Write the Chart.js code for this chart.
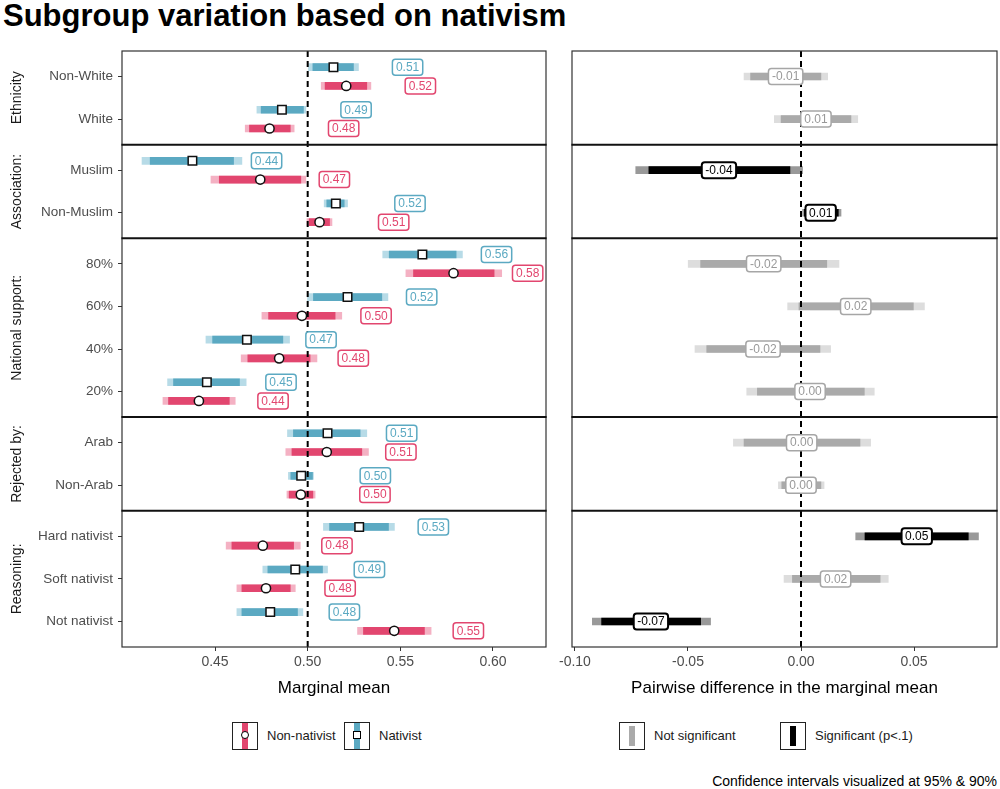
<!DOCTYPE html>
<html lang="en">
<head>
    <meta charset="UTF-8">
    <title>Subgroup variation based on nativism</title>
    <style>
        body {
            margin: 0;
            background-color: #fff;
            font-family: "Liberation Sans", Arial, sans-serif;
        }

        #page {
            position: relative;
            width: 1000px;
            height: 789px;
            overflow: hidden;
        }

        h1 {
            position: absolute;
            left: 3px;
            top: 0;
            margin: 0;
            font-size: 31px;
            line-height: 31px;
            font-weight: bold;
            color: #000;
            white-space: nowrap;
        }

        canvas {
            position: absolute;
            top: 0;
        }

        .legend-item {
            position: absolute;
            top: 721px;
            height: 29px;
            display: flex;
            align-items: center;
            font-size: 13px;
            color: #1a1a1a;
            white-space: nowrap;
        }

        .key {
            position: relative;
            width: 24px;
            height: 26px;
            border: 1.5px solid #222;
            margin-right: 9px;
            flex: none;
        }

        .key .bar {
            position: absolute;
            left: 9px;
            top: 0;
            width: 6px;
            height: 100%;
        }

        .key .dot {
            position: absolute;
            left: 7.8px;
            top: 8.8px;
            width: 6px;
            height: 6px;
            border: 1.2px solid #000;
            background: #fff;
        }

        .caption {
            position: absolute;
            right: 3px;
            top: 773px;
            font-size: 14px;
            line-height: 16px;
            color: #000;
            white-space: nowrap;
        }
    </style>
</head>
<body>
<div id="page">
    <h1>Subgroup variation based on nativism</h1>

    <canvas id="left-chart" width="556" height="700" style="left:0"></canvas>
    <canvas id="right-chart" width="444" height="700" style="left:556px"></canvas>

    <!-- Legend -->
    <div class="legend-item" style="left:232px">
        <span class="key"><span class="bar" style="background:#e2466f"></span><span class="dot" style="border-radius:50%"></span></span>Non-nativist
    </div>
    <div class="legend-item" style="left:344px">
        <span class="key"><span class="bar" style="background:#5ba9c2"></span><span class="dot"></span></span>Nativist
    </div>
    <div class="legend-item" style="left:619px">
        <span class="key"><span class="bar" style="background:#aaaaaa;top:3px;height:20px"></span></span>Not significant
    </div>
    <div class="legend-item" style="left:780px">
        <span class="key"><span class="bar" style="background:#000;top:3px;height:20px"></span></span>Significant (p&lt;.1)
    </div>
    <div class="caption">Confidence intervals visualized at 95% &amp; 90%</div>
</div>

<script src="https://cdn.jsdelivr.net/npm/chart.js"></script>
<script>
    // Facets and categories (top to bottom)
    const facetNames = ['Ethnicity', 'Association:', 'National support:', 'Rejected by:', 'Reasoning:'];
    const facetSizes = [2, 2, 4, 2, 3];
    const categories = ['Non-White', 'White', 'Muslim', 'Non-Muslim', '80%', '60%', '40%', '20%',
        'Arab', 'Non-Arab', 'Hard nativist', 'Soft nativist', 'Not nativist'];

    // Marginal means, nativist respondents
    const nativistEst  = [0.5139, 0.4861, 0.4378, 0.5152, 0.5619, 0.5215, 0.4672, 0.4456, 0.5107, 0.4965, 0.5278, 0.4933, 0.4798];
    const nativistLo90 = [0.5028, 0.4749, 0.4150, 0.5103, 0.5440, 0.5031, 0.4487, 0.4276, 0.4923, 0.4909, 0.5118, 0.4785, 0.4645];
    const nativistHi90 = [0.5247, 0.4977, 0.4600, 0.5197, 0.5801, 0.5400, 0.4866, 0.4632, 0.5283, 0.5026, 0.5436, 0.5080, 0.4945];
    const nativistLo95 = [0.5004, 0.4726, 0.4106, 0.5089, 0.5405, 0.4999, 0.4451, 0.4244, 0.4891, 0.4896, 0.5085, 0.4758, 0.4618];
    const nativistHi95 = [0.5274, 0.4990, 0.4645, 0.5215, 0.5835, 0.5433, 0.4902, 0.4668, 0.5319, 0.5031, 0.5468, 0.5107, 0.4974];

    // Marginal means, non-nativist respondents
    const nonNativistEst  = [0.5208, 0.4794, 0.4744, 0.5064, 0.5787, 0.4969, 0.4846, 0.4413, 0.5103, 0.4963, 0.4758, 0.4775, 0.5467];
    const nonNativistLo90 = [0.5094, 0.4686, 0.4523, 0.5008, 0.5571, 0.4789, 0.4677, 0.4249, 0.4915, 0.4900, 0.4591, 0.4645, 0.5301];
    const nonNativistHi90 = [0.5319, 0.4906, 0.4963, 0.5118, 0.6006, 0.5148, 0.5013, 0.4577, 0.5292, 0.5028, 0.4924, 0.4906, 0.5630];
    const nonNativistLo95 = [0.5073, 0.4663, 0.4478, 0.4996, 0.5530, 0.4753, 0.4641, 0.4219, 0.4882, 0.4888, 0.4560, 0.4618, 0.5269];
    const nonNativistHi95 = [0.5341, 0.4927, 0.4990, 0.5131, 0.6047, 0.5184, 0.5050, 0.4609, 0.5328, 0.5040, 0.4960, 0.4933, 0.5666];

    // Pairwise difference (nativist - non-nativist)
    const diffEst  = [-0.0068, 0.0066, -0.0363, 0.0087, -0.0165, 0.0242, -0.0168, 0.0040, 0.0003, 0.0000, 0.0512, 0.0153, -0.0664];
    const diffLo90 = [-0.0223, -0.0088, -0.0673, 0.0015, -0.0444, -0.0009, -0.0417, -0.0193, -0.0252, -0.0085, 0.0283, -0.0038, -0.0882];
    const diffHi90 = [0.0088, 0.0221, -0.0049, 0.0165, 0.0114, 0.0497, 0.0084, 0.0280, 0.0261, 0.0088, 0.0740, 0.0350, -0.0444];
    const diffLo95 = [-0.0252, -0.0118, -0.0731, 0.0007, -0.0499, -0.0059, -0.0469, -0.0240, -0.0299, -0.0100, 0.0242, -0.0075, -0.0923];
    const diffHi95 = [0.0118, 0.0251, 0.0007, 0.0177, 0.0168, 0.0546, 0.0131, 0.0324, 0.0308, 0.0102, 0.0785, 0.0386, -0.0400];
    const diffSignificant = [false, false, true, true, false, false, false, false, false, false, true, false, true];

    // Axis ticks
    const leftTicks = [0.45, 0.50, 0.55, 0.60];
    const rightTicks = [-0.10, -0.05, 0.00, 0.05];

    const BLUE = '#5ba9c2', BLUE_LIGHT = '#b7dbe7';
    const RED = '#e2466f', RED_LIGHT = '#f4b1c3';
    const FONT = '"Liberation Sans", Arial, sans-serif';

    Chart.defaults.font.family = FONT;

    // y positions: each facet spans n rows + 0.6 padding on both ends (like ggplot discrete scales)
    const rowPos = [];
    const facetBounds = [];
    let cursor = 0;
    facetSizes.forEach(n => {
        const start = cursor;
        for (let k = 0; k < n; k++) rowPos.push(start + 0.6 + k);
        cursor = start + n + 0.2;
        facetBounds.push([start, cursor]);
    });
    const yMax = cursor;
    const dodge = 0.22;

    function roundRectPath(ctx, x, y, w, h, r) {
        ctx.beginPath();
        ctx.moveTo(x + r, y);
        ctx.lineTo(x + w - r, y);
        ctx.arcTo(x + w, y, x + w, y + r, r);
        ctx.lineTo(x + w, y + h - r);
        ctx.arcTo(x + w, y + h, x + w - r, y + h, r);
        ctx.lineTo(x + r, y + h);
        ctx.arcTo(x, y + h, x, y + h - r, r);
        ctx.lineTo(x, y + r);
        ctx.arcTo(x, y, x + r, y, r);
        ctx.closePath();
    }

    // Draws the reference line, value labels, facet borders and strip labels
    function makePanelPlugin(opts) {
        let refDone = false;

        function drawRef(chart) {
            const ctx = chart.ctx, area = chart.chartArea;
            const x = chart.scales.x.getPixelForValue(opts.refValue);
            ctx.save();
            ctx.strokeStyle = '#000';
            ctx.lineWidth = 2;
            ctx.setLineDash([6, 4]);
            ctx.beginPath();
            ctx.moveTo(x, area.top);
            ctx.lineTo(x, area.bottom);
            ctx.stroke();
            ctx.restore();
        }

        function drawLabels(chart) {
            const ctx = chart.ctx, xs = chart.scales.x, ys = chart.scales.y;
            ctx.save();
            ctx.font = '12px ' + FONT;
            ctx.textAlign = 'center';
            ctx.textBaseline = 'middle';
            opts.labels.forEach(l => {
                const px = xs.getPixelForValue(l.x), py = ys.getPixelForValue(l.y);
                const w = ctx.measureText(l.text).width + 7, h = 16;
                roundRectPath(ctx, px - w / 2, py - h / 2, w, h, 3);
                ctx.fillStyle = '#fff';
                ctx.fill();
                ctx.lineWidth = l.lineWidth;
                ctx.strokeStyle = l.border;
                ctx.stroke();
                ctx.fillStyle = l.color;
                ctx.fillText(l.text, px, py + 0.5);
            });
            ctx.restore();
        }

        return {
            id: 'panels',
            beforeDatasetsDraw() { refDone = false; },
            beforeDatasetDraw(chart, args) {
                if (!refDone && args.meta.type === 'scatter') {
                    drawRef(chart);
                    refDone = true;
                }
            },
            afterDatasetsDraw(chart) {
                if (!refDone) {
                    drawRef(chart);
                    refDone = true;
                }
                drawLabels(chart);
            },
            afterDraw(chart) {
                const ctx = chart.ctx, area = chart.chartArea, ys = chart.scales.y;
                ctx.save();
                ctx.strokeStyle = '#333';
                ctx.lineWidth = 1.2;
                ctx.strokeRect(area.left, area.top, area.right - area.left, area.bottom - area.top);
                ctx.strokeStyle = '#111';
                ctx.lineWidth = 2;
                facetBounds.slice(1).forEach(([start]) => {
                    const y = ys.getPixelForValue(start);
                    ctx.beginPath();
                    ctx.moveTo(area.left - 0.6, y);
                    ctx.lineTo(area.right + 0.6, y);
                    ctx.stroke();
                });
                if (opts.strips) {
                    ctx.fillStyle = '#1a1a1a';
                    ctx.font = '14px ' + FONT;
                    ctx.textAlign = 'center';
                    ctx.textBaseline = 'middle';
                    facetBounds.forEach(([start, end], i) => {
                        const yc = (ys.getPixelForValue(start) + ys.getPixelForValue(end)) / 2;
                        ctx.save();
                        ctx.translate(17, yc);
                        ctx.rotate(-Math.PI / 2);
                        ctx.fillText(facetNames[i], 0, 0);
                        ctx.restore();
                    });
                }
                ctx.restore();
            }
        };
    }

    function xScale(min, max, ticks, title) {
        return {
            type: 'linear',
            min: min,
            max: max,
            afterBuildTicks: s => { s.ticks = ticks.map(v => ({ value: v })); },
            afterFit: s => { s.height = 53; s.paddingLeft = 0; s.paddingRight = 0; },
            ticks: {
                callback: v => v.toFixed(2),
                color: '#4d4d4d',
                font: { size: 14 },
                padding: 3,
                maxRotation: 0,
                autoSkip: false
            },
            grid: { drawOnChartArea: false, drawTicks: true, tickLength: 4, tickColor: '#333', offset: false },
            border: { display: false },
            title: { display: true, text: title, color: '#000', font: { size: 17 }, padding: { top: 4, bottom: 1 } }
        };
    }

    function barSet(lo, hi, offset, color, order) {
        return {
            type: 'bar',
            indexAxis: 'y',
            data: rowPos.map((p, i) => ({ y: p + offset, x: [lo[i], hi[i]] })),
            backgroundColor: color,
            borderWidth: 0,
            barThickness: 7,
            grouped: false,
            order: order
        };
    }

    const commonOptions = {
        responsive: false,
        animation: false,
        events: [],
        plugins: { legend: { display: false }, tooltip: { enabled: false } }
    };

    // Left panel: marginal means
    const leftLabels = [];
    rowPos.forEach((p, i) => {
        leftLabels.push({ x: nativistEst[i] + 0.04, y: p - dodge, text: nativistEst[i].toFixed(2), color: BLUE, border: BLUE, lineWidth: 1.5 });
        leftLabels.push({ x: nonNativistEst[i] + 0.04, y: p + dodge, text: nonNativistEst[i].toFixed(2), color: RED, border: RED, lineWidth: 1.5 });
    });

    new Chart(document.getElementById('left-chart'), {
        type: 'scatter',
        data: {
            datasets: [
                {
                    type: 'scatter',
                    label: 'Nativist',
                    data: rowPos.map((p, i) => ({ x: nativistEst[i], y: p - dodge })),
                    pointStyle: 'rect',
                    pointRadius: 6,
                    backgroundColor: '#fff',
                    borderColor: '#111',
                    borderWidth: 1.5,
                    order: 0
                },
                {
                    type: 'scatter',
                    label: 'Non-nativist',
                    data: rowPos.map((p, i) => ({ x: nonNativistEst[i], y: p + dodge })),
                    pointStyle: 'circle',
                    pointRadius: 4.6,
                    backgroundColor: '#fff',
                    borderColor: '#111',
                    borderWidth: 1.5,
                    order: 0
                },
                barSet(nativistLo90, nativistHi90, -dodge, BLUE, 1),
                barSet(nonNativistLo90, nonNativistHi90, dodge, RED, 1),
                barSet(nativistLo95, nativistHi95, -dodge, BLUE_LIGHT, 2),
                barSet(nonNativistLo95, nonNativistHi95, dodge, RED_LIGHT, 2)
            ]
        },
        options: Object.assign({}, commonOptions, {
            layout: { padding: { left: 0, right: 10, top: 51, bottom: 0 } },
            scales: {
                x: xScale(0.3998, 0.6286, leftTicks, 'Marginal mean'),
                y: {
                    type: 'linear',
                    reverse: true,
                    min: 0,
                    max: yMax,
                    offset: false,
                    afterBuildTicks: s => { s.ticks = rowPos.map(v => ({ value: v })); },
                    afterFit: s => { s.width = 122; s.paddingTop = 0; s.paddingBottom = 0; },
                    ticks: {
                        callback: (v, i) => categories[i],
                        color: '#4d4d4d',
                        font: { size: 13.5 },
                        padding: 5,
                        autoSkip: false
                    },
                    grid: { drawOnChartArea: false, drawTicks: true, tickLength: 4, tickColor: '#333', offset: false },
                    border: { display: false }
                }
            }
        }),
        plugins: [makePanelPlugin({ refValue: 0.5, labels: leftLabels, strips: true })]
    });

    // Right panel: pairwise differences
    const rightLabels = rowPos.map((p, i) => ({
        x: diffEst[i],
        y: p,
        text: diffEst[i].toFixed(2),
        color: diffSignificant[i] ? '#000' : '#999',
        border: diffSignificant[i] ? '#000' : '#a6a6a6',
        lineWidth: diffSignificant[i] ? 2 : 1.5
    }));

    const diff90 = barSet(diffLo90, diffHi90, 0, diffSignificant.map(s => s ? '#000' : '#aaaaaa'), 1);
    const diff95 = barSet(diffLo95, diffHi95, 0, diffSignificant.map(s => s ? '#999999' : '#dddddd'), 2);

    new Chart(document.getElementById('right-chart'), {
        type: 'scatter',
        data: { datasets: [diff90, diff95] },
        options: Object.assign({}, commonOptions, {
            layout: { padding: { left: 16, right: 3, top: 51, bottom: 0 } },
            scales: {
                x: xScale(-0.1013, 0.0867, rightTicks, 'Pairwise difference in the marginal mean'),
                y: {
                    type: 'linear',
                    display: false,
                    reverse: true,
                    min: 0,
                    max: yMax,
                    offset: false
                }
            }
        }),
        plugins: [makePanelPlugin({ refValue: 0, labels: rightLabels, strips: false })]
    });
</script>
</body>
</html>
